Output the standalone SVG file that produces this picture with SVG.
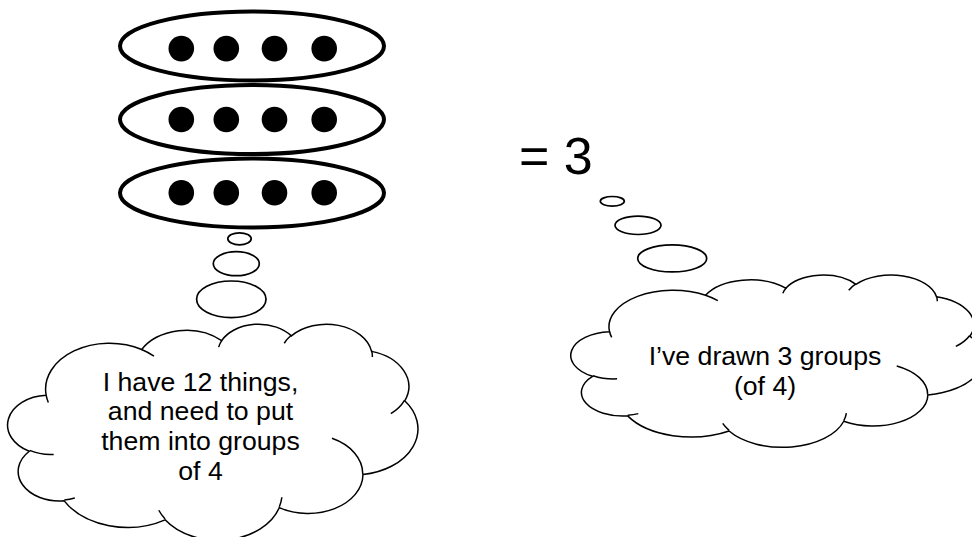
<svg xmlns="http://www.w3.org/2000/svg" width="972" height="537" viewBox="0 0 972 537">
<style>
.big{fill:#fff;stroke:#000;stroke-width:4}
.dot{fill:#000}
.bub{fill:#fff;stroke:#000;stroke-width:1.7}
.cl{fill:#fff;stroke:#000;stroke-width:1.5;vector-effect:non-scaling-stroke}
.cr{fill:none;stroke:#000;stroke-width:1.5;vector-effect:non-scaling-stroke}
.t{font-family:"Liberation Sans",Arial,sans-serif;font-size:26.67px;fill:#000;text-anchor:middle}
.eq{font-family:"Liberation Sans",Arial,sans-serif;font-size:52px;fill:#000}
</style>
<defs>
<path id="cloudShape" class="cl" vector-effect="non-scaling-stroke" d="M3900,14370 A6753,9190 0 0 1 14005,5202 A5333,7267 0 0 1 22456,3432 A4365,5945 0 0 1 29833,2481 A4857,6595 0 0 1 38318,5576 A5333,7273 0 0 1 41819,15460 A6775,9220 0 0 1 37405,30203 A5785,7867 0 0 1 28556,36813 A6752,9215 0 0 1 16481,39264 A7720,10543 0 0 1 5805,35470 A4360,5918 0 0 1 2114,25548 A4345,5945 0 0 1 3900,14370 Z"/>
<path id="cloudCreases" class="cr" vector-effect="non-scaling-stroke" d="M4693,26177 A4345,5945 0 0 1 2160,25380 M6928,34899 A4360,5918 0 0 1 5820,35281 M16478,39090 A6752,9215 0 0 1 15810,37350 M28827,34751 A6752,9215 0 0 1 28560,36660 M34129,22954 A5785,7867 0 0 1 37380,30090 M41798,15354 A5333,7273 0 0 1 40350,18030 M38324,5426 A4857,6595 0 0 1 38400,6690 M29078,3952 A4857,6595 0 0 1 29820,2340 M22141,4720 A4365,5945 0 0 1 22500,3330 M14000,5192 A6753,9190 0 0 1 15300,6540 M4127,15789 A6753,9190 0 0 1 3900,14370"/>
</defs>

<g id="groups">
  <g id="group1">
    <ellipse class="big" cx="252" cy="46" rx="132" ry="34.5"/>
    <circle class="dot" cx="181.3" cy="48.6" r="12.8"/>
    <circle class="dot" cx="226.3" cy="48.6" r="12.8"/>
    <circle class="dot" cx="274.5" cy="48.6" r="12.8"/>
    <circle class="dot" cx="324.2" cy="48.6" r="12.8"/>
  </g>
  <g id="group2">
    <ellipse class="big" cx="252" cy="119.6" rx="132" ry="34.5"/>
    <circle class="dot" cx="181.3" cy="119.5" r="12.8"/>
    <circle class="dot" cx="226.3" cy="119.5" r="12.8"/>
    <circle class="dot" cx="274.5" cy="119.5" r="12.8"/>
    <circle class="dot" cx="324.2" cy="119.5" r="12.8"/>
  </g>
  <g id="group3">
    <ellipse class="big" cx="252" cy="193" rx="132" ry="34.5"/>
    <circle class="dot" cx="181.3" cy="192.8" r="12.8"/>
    <circle class="dot" cx="226.3" cy="192.8" r="12.8"/>
    <circle class="dot" cx="274.5" cy="192.8" r="12.8"/>
    <circle class="dot" cx="324.2" cy="192.8" r="12.8"/>
  </g>
</g>

<g id="connectors">
  <g id="left-trail">
    <ellipse class="bub" cx="239.5" cy="238.8" rx="11.7" ry="6"/>
    <ellipse class="bub" cx="236.3" cy="263.7" rx="23" ry="12"/>
    <ellipse class="bub" cx="231.3" cy="299.3" rx="34.7" ry="18.3"/>
  </g>
  <g id="right-trail">
    <ellipse class="bub" cx="612.3" cy="201.3" rx="12" ry="4.8"/>
    <ellipse class="bub" cx="638" cy="225.3" rx="23" ry="9.2"/>
    <ellipse class="bub" cx="672.2" cy="258.4" rx="34.5" ry="13.5"/>
  </g>
</g>

<g id="left-cloud">
  <g transform="translate(9.3,323.5) scale(0.009455,0.005)">
    <use href="#cloudShape"/>
    <use href="#cloudCreases"/>
  </g>
  <text class="t" x="200.5" y="390.5">I have 12 things,</text>
  <text class="t" x="200.5" y="420.3">and need to put</text>
  <text class="t" x="200.5" y="450.1">them into groups</text>
  <text class="t" x="200.5" y="479.9">of 4</text>
</g>

<g id="equals">
  <text class="eq" x="519" y="174">= 3</text>
</g>

<g id="right-cloud">
  <g transform="translate(572.5,274.5) scale(0.0095,0.003986)">
    <use href="#cloudShape"/>
    <use href="#cloudCreases"/>
  </g>
  <text class="t" x="765" y="365">I’ve drawn 3 groups</text>
  <text class="t" x="765" y="394.5">(of 4)</text>
</g>
</svg>
